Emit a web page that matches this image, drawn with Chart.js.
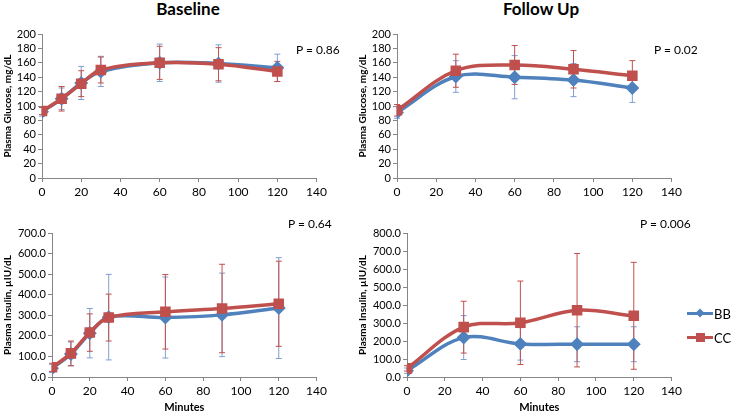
<!DOCTYPE html>
<html>
<head>
<meta charset="utf-8">
<script src="https://cdn.jsdelivr.net/npm/chart.js@4/dist/chart.umd.min.js"></script>
<style>
  body { margin: 0; width: 733px; height: 414px; position: relative; background: #fff; overflow: hidden;
         font-family: Lato, "Open Sans", sans-serif; color: #000; }
  canvas { position: absolute; }
  .title { position: absolute; font-weight: bold; font-size: 17px; line-height: 18px; transform: translateX(-50%); white-space: nowrap; }
  .pval { position: absolute; font-size: 12px; line-height: 14px; white-space: nowrap; }
  .legend { position: absolute; left: 687px; font-size: 13px; line-height: 14px; }
  .legend div { position: relative; height: 24px; }
  .legend .ln { position: absolute; left: 0; top: 5px; width: 26px; height: 3px; }
  .legend .mk { position: absolute; left: 9px; width: 8px; height: 8px; top: 2px; }
  .legend .tx { position: absolute; left: 27px; top: 0; }
</style>
</head>
<body>

<div class="title" style="left:188px; top:0px;">Baseline</div>
<div class="title" style="left:541px; top:0px;">Follow Up</div>

<canvas id="glucoseBase" width="330" height="190" style="left:0; top:20px;"></canvas>
<canvas id="glucoseFollow" width="330" height="190" style="left:355px; top:20px;"></canvas>
<canvas id="insulinBase" width="330" height="194" style="left:0; top:220px;"></canvas>
<canvas id="insulinFollow" width="330" height="194" style="left:355px; top:220px;"></canvas>

<div class="pval" style="left:296px; top:43px;">P = 0.86</div>
<div class="pval" style="left:654px; top:43px;">P = 0.02</div>
<div class="pval" style="left:288px; top:217px;">P = 0.64</div>
<div class="pval" style="left:640px; top:217px;">P = 0.006</div>

<div class="legend" style="top:307px;">
  <div><span class="ln" style="background:#4f81bd"></span><span class="mk" style="background:#4f81bd; transform:rotate(45deg) scale(0.8);"></span><span class="tx">BB</span></div>
  <div><span class="ln" style="background:#c0504d"></span><span class="mk" style="background:#c0504d; width:9px; height:9px; top:2px;"></span><span class="tx">CC</span></div>
</div>

<script>
// --- time points (minutes) ---
const baseMinutes = [0, 10, 20, 30, 60, 90, 120];
const followMinutes = [0, 30, 60, 90, 120];

// --- Plasma glucose, mg/dL ---
const glucoseBaseBB = [92, 110, 132, 148, 160, 159, 153];
const glucoseBaseBBErr = [6, 15, 23, 21, 26, 26, 19];
const glucoseBaseCC = [93, 110, 131, 150, 160, 158, 148];
const glucoseBaseCCErr = [5, 17, 18, 18, 23, 23, 14];

const glucoseFollowBB = [91, 141, 140, 136, 125];
const glucoseFollowBBErr = [8, 22, 30, 23, 20];
const glucoseFollowCC = [94, 149, 157, 151, 142];
const glucoseFollowCCErr = [8, 23, 27, 26, 21];

// --- Plasma insulin, µIU/dL ---
const insulinBaseBB = [42, 112, 213, 291, 289, 302, 335];
const insulinBaseBBErr = [20, 58, 120, 208, 197, 203, 245];
const insulinBaseCC = [47, 115, 216, 289, 317, 333, 356];
const insulinBaseCCErr = [20, 60, 91, 114, 181, 215, 207];

const insulinFollowBB = [35, 219, 184, 182, 182];
const insulinFollowBBErr = [15, 122, 90, 97, 97];
const insulinFollowCC = [48, 277, 301, 371, 340];
const insulinFollowCCErr = [15, 144, 232, 315, 297];

const BLUE = '#4f81bd';
const RED = '#c0504d';
const AXIS = '#868686';

// draws vertical error bars with caps, using the chart's own scales
const errorBars = {
    id: 'errorBars',
    beforeDatasetsDraw(chart) {
        const ctx = chart.ctx;
        const yScale = chart.scales.y;
        chart.data.datasets.forEach((ds, i) => {
            const meta = chart.getDatasetMeta(i);
            ctx.save();
            ctx.strokeStyle = ds.errorColor;
            ctx.lineWidth = 1;
            meta.data.forEach((pt, j) => {
                const v = ds.data[j].y;
                const e = ds.errors[j];
                const top = yScale.getPixelForValue(v + e);
                const bot = yScale.getPixelForValue(v - e);
                ctx.beginPath();
                ctx.moveTo(pt.x, top); ctx.lineTo(pt.x, bot);
                ctx.moveTo(pt.x - 3, top); ctx.lineTo(pt.x + 3, top);
                ctx.moveTo(pt.x - 3, bot); ctx.lineTo(pt.x + 3, bot);
                ctx.stroke();
            });
            ctx.restore();
        });
    }
};

function toPoints(xs, ys) {
    return xs.map((x, i) => ({ x: x, y: ys[i] }));
}

function makeChart(id, opts) {
    const ctx = document.getElementById(id).getContext('2d');
    new Chart(ctx, {
        type: 'line',
        data: {
            datasets: [
                {
                    label: 'BB',
                    data: toPoints(opts.xs, opts.bb),
                    errors: opts.bbErr,
                    errorColor: '#7f9fd3',
                    borderColor: BLUE,
                    backgroundColor: BLUE,
                    borderWidth: 3.5,
                    tension: 0.35,
                    pointStyle: 'rectRot',
                    pointRadius: 4.5,
                    order: 2
                },
                {
                    label: 'CC',
                    data: toPoints(opts.xs, opts.cc),
                    errors: opts.ccErr,
                    errorColor: RED,
                    borderColor: RED,
                    backgroundColor: RED,
                    borderWidth: 3.5,
                    tension: 0.35,
                    pointStyle: 'rect',
                    pointRadius: 5,
                    order: 1
                }
            ]
        },
        options: {
            responsive: false,
            animation: false,
            layout: { padding: { top: opts.padTop, right: opts.padRight, left: 0, bottom: 0 } },
            plugins: { legend: { display: false }, tooltip: { enabled: false } },
            scales: {
                x: {
                    type: 'linear',
                    min: 0, max: 140,
                    ticks: { stepSize: 20, autoSkip: false, maxRotation: 0, color: '#000', font: { family: 'Lato', size: 12 }, padding: 3 },
                    grid: { display: true, drawOnChartArea: false, drawTicks: true, tickLength: 4, color: AXIS },
                    border: { color: AXIS },
                    title: {
                        display: !!opts.xTitle, text: opts.xTitle || '', color: '#000',
                        font: { family: 'Lato', size: 11, weight: 'bold' }, padding: { top: 0, bottom: 0 }
                    },
                    afterFit: s => { s.height = opts.xHeight; }
                },
                y: {
                    min: 0, max: opts.yMax,
                    ticks: {
                        stepSize: opts.yStep, autoSkip: false, color: '#000', font: { family: 'Lato', size: 11 }, padding: 2,
                        callback: v => Number(v).toFixed(opts.yDec)
                    },
                    grid: { display: true, drawOnChartArea: false, drawTicks: true, tickLength: 4, color: AXIS },
                    border: { color: AXIS },
                    title: {
                        display: true, text: opts.yTitle, color: '#000',
                        font: { family: 'Lato', size: 10, weight: 'bold' }, padding: { top: 2, bottom: 0 }
                    },
                    afterFit: s => { s.width = opts.yWidth; }
                }
            }
        },
        plugins: [errorBars]
    });
}

makeChart('glucoseBase', {
    xs: baseMinutes, bb: glucoseBaseBB, bbErr: glucoseBaseBBErr, cc: glucoseBaseCC, ccErr: glucoseBaseCCErr,
    yMax: 200, yStep: 20, yDec: 0, yTitle: 'Plasma Glucose, mg/dL',
    yWidth: 42, xHeight: 32, padTop: 14, padRight: 12
});
makeChart('glucoseFollow', {
    xs: followMinutes, bb: glucoseFollowBB, bbErr: glucoseFollowBBErr, cc: glucoseFollowCC, ccErr: glucoseFollowCCErr,
    yMax: 200, yStep: 20, yDec: 0, yTitle: 'Plasma Glucose, mg/dL',
    yWidth: 42, xHeight: 32, padTop: 14, padRight: 11
});
makeChart('insulinBase', {
    xs: baseMinutes, bb: insulinBaseBB, bbErr: insulinBaseBBErr, cc: insulinBaseCC, ccErr: insulinBaseCCErr,
    yMax: 700, yStep: 100, yDec: 1, yTitle: 'Plasma Insulin, \u00b5IU/dL', xTitle: 'Minutes',
    yWidth: 52, xHeight: 37, padTop: 13, padRight: 10
});
makeChart('insulinFollow', {
    xs: followMinutes, bb: insulinFollowBB, bbErr: insulinFollowBBErr, cc: insulinFollowCC, ccErr: insulinFollowCCErr,
    yMax: 800, yStep: 100, yDec: 1, yTitle: 'Plasma Insulin, \u00b5IU/dL', xTitle: 'Minutes',
    yWidth: 52, xHeight: 37, padTop: 13, padRight: 13
});
</script>
</body>
</html>
